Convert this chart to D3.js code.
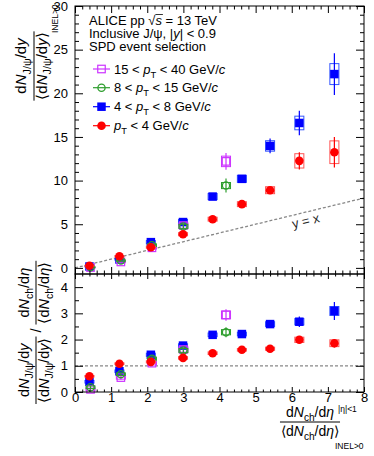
<!DOCTYPE html>
<meta charset="utf-8">
<style>
    body { margin: 0; background: #fff; }
    svg { font-family: "Liberation Sans", Arial, sans-serif; }
</style>
<body>
<script src="https://d3js.org/d3.v7.min.js"></script>
<script>
// x positions (dNch/deta relative to INEL>0)
var xLowPt = [0.40, 1.23, 2.10, 2.99, 3.81, 4.62, 5.40, 6.21, 7.18];
var xHighPt = [0.43, 1.27, 2.13, 3.00, 4.18];

// pT < 4 GeV/c
var redY = [0.24, 1.33, 2.37, 3.86, 5.58, 7.30, 8.90, 12.26, 13.25];
var redStat = [0.05, 0.08, 0.10, 0.15, 0.20, 0.25, 0.40, 1.00, 1.75];
var redSys = [0.05, 0.08, 0.12, 0.18, 0.22, 0.28, 0.40, 0.82, 1.30];
var redR = [0.60, 1.08, 1.15, 1.30, 1.48, 1.61, 1.65, 1.99, 1.86];
var redRStat = [0.04, 0.04, 0.04, 0.05, 0.05, 0.05, 0.06, 0.10, 0.16];
var redRSys = [0.03, 0.03, 0.04, 0.05, 0.05, 0.05, 0.06, 0.10, 0.13];

// 4 < pT < 8 GeV/c
var blueY = [0.16, 0.97, 2.95, 5.25, 8.17, 10.20, 13.97, 16.60, 22.20];
var blueStat = [0.05, 0.08, 0.15, 0.25, 0.30, 0.35, 0.85, 1.40, 2.40];
var blueSys = [0.05, 0.08, 0.18, 0.30, 0.35, 0.40, 0.60, 0.78, 1.20];
var blueR = [0.39, 0.79, 1.42, 1.77, 2.18, 2.21, 2.59, 2.68, 3.09];
var blueRStat = [0.08, 0.07, 0.07, 0.08, 0.08, 0.08, 0.12, 0.20, 0.34];
var blueRSys = [0.05, 0.05, 0.06, 0.07, 0.07, 0.07, 0.09, 0.12, 0.17];

// 8 < pT < 15 GeV/c
var greenY = [0.07, 0.84, 2.60, 4.75, 9.43];
var greenStat = [0.05, 0.10, 0.20, 0.30, 0.80];
var greenSys = [0.05, 0.08, 0.15, 0.25, 0.35];
var greenR = [0.18, 0.68, 1.27, 1.58, 2.28];
var greenRStat = [0.06, 0.07, 0.08, 0.10, 0.19];
var greenRSys = [0.05, 0.05, 0.06, 0.08, 0.10];

// 15 < pT < 40 GeV/c
var magY = [0.04, 0.68, 2.30, 4.85, 12.20];
var magStat = [0.05, 0.10, 0.20, 0.40, 0.95];
var magSys = [0.05, 0.08, 0.15, 0.30, 0.60];
var magR = [0.10, 0.55, 1.10, 1.62, 2.94];
var magRStat = [0.06, 0.08, 0.09, 0.12, 0.22];
var magRSys = [0.05, 0.06, 0.07, 0.10, 0.15];

var yTopMajor = [0, 5, 10, 15, 20, 25, 30];
var yBotMajor = [0, 1, 2, 3, 4];
var xMajor = [0, 1, 2, 3, 4, 5, 6, 7, 8];

var W = 374, H = 456;
var x0 = 75, x1 = 364;
var topY0 = 274, topY1 = 6;
var botY0 = 392, botY1 = 274;

var svg = d3.select("body").append("svg")
    .attr("width", W)
    .attr("height", H);

var x = d3.scaleLinear().domain([0, 8]).range([x0, x1]);
var yTop = d3.scaleLinear().domain([-0.7, 30]).range([topY0, topY1]);
var yBot = d3.scaleLinear().domain([0, 4.5]).range([botY0, botY1]);

// series table, drawn in this order
var series = [
    { x: xLowPt, y: blueY, st: blueStat, sy: blueSys, r: blueR, rst: blueRStat, rsy: blueRSys,
      color: "#0000ff", box: "#3355ff", marker: "square", filled: true,
      label: [["4 < ", ""], ["p", "i"], ["T", "sub"], [" < 8 GeV/", ""], ["c", "i"]] },
    { x: xHighPt, y: magY, st: magStat, sy: magSys, r: magR, rst: magRStat, rsy: magRSys,
      color: "#cc33ff", box: "#cc33ff", marker: "square", filled: false,
      label: [["15 < ", ""], ["p", "i"], ["T", "sub"], [" < 40 GeV/", ""], ["c", "i"]] },
    { x: xHighPt, y: greenY, st: greenStat, sy: greenSys, r: greenR, rst: greenRStat, rsy: greenRSys,
      color: "#2e9e2e", box: "#2e9e2e", marker: "circle", filled: false,
      label: [["8 < ", ""], ["p", "i"], ["T", "sub"], [" < 15 GeV/", ""], ["c", "i"]] },
    { x: xLowPt, y: redY, st: redStat, sy: redSys, r: redR, rst: redRStat, rsy: redRSys,
      color: "#ff0000", box: "#ff5555", marker: "circle", filled: true,
      label: [["p", "i"], ["T", "sub"], [" < 4 GeV/", ""], ["c", "i"]] }
];
var legendOrder = [1, 2, 0, 3];

// rich text helper: parts = [text, style]
function rich(sel, parts, size) {
    var shift = 0;
    parts.forEach(function(p) {
        var t = sel.append("tspan").text(p[0]);
        var target = p[1] === "sub" ? size * 0.3 : (p[1] === "sup" ? -size * 0.35 : 0);
        if (target !== shift) t.attr("dy", target - shift);
        shift = target;
        if (p[1] === "i") t.attr("font-style", "italic");
        if (p[1] === "sub" || p[1] === "sup") t.attr("font-size", size * 0.72);
    });
    return sel;
}

function drawMarker(g, m, cx, cy, color, filled) {
    if (m === "square") {
        var s = filled ? 8.5 : 7.5;
        g.append("rect")
            .attr("x", cx - s / 2).attr("y", cy - s / 2)
            .attr("width", s).attr("height", s)
            .attr("fill", filled ? color : "none")
            .attr("stroke", color).attr("stroke-width", filled ? 0 : 1.2);
    } else {
        g.append("circle")
            .attr("cx", cx).attr("cy", cy)
            .attr("r", filled ? 4.3 : 3.6)
            .attr("fill", filled ? color : "none")
            .attr("stroke", color).attr("stroke-width", filled ? 0 : 1.3);
    }
}

// axes for a panel
function panelAxes(y, yMajor, yMinor, yTickMaj, xTickMaj, xLabels, ytop, ybot) {
    var fmt = d3.format("d");
    function clean(g) {
        g.select(".domain").remove();
        g.selectAll("line").attr("stroke", "#000");
        g.selectAll("text").attr("fill", "#000");
        g.attr("font-size", 13).attr("font-family", "Liberation Sans, Arial, sans-serif");
    }
    var xMinor = d3.range(0, 8.01, 0.2).filter(function(v) { return Math.abs(v - Math.round(v)) > 1e-6; });
    // left
    svg.append("g").attr("transform", "translate(" + x0 + ",0)")
        .call(d3.axisLeft(y).tickValues(yMinor).tickSize(-yTickMaj / 2).tickFormat("")).call(clean);
    svg.append("g").attr("transform", "translate(" + x0 + ",0)")
        .call(d3.axisLeft(y).tickValues(yMajor).tickSize(-yTickMaj).tickPadding(7).tickFormat(fmt)).call(clean);
    // right
    svg.append("g").attr("transform", "translate(" + x1 + ",0)")
        .call(d3.axisRight(y).tickValues(yMinor).tickSize(-yTickMaj / 2).tickFormat("")).call(clean);
    svg.append("g").attr("transform", "translate(" + x1 + ",0)")
        .call(d3.axisRight(y).tickValues(yMajor).tickSize(-yTickMaj).tickFormat("")).call(clean);
    // bottom
    svg.append("g").attr("transform", "translate(0," + ybot + ")")
        .call(d3.axisBottom(x).tickValues(xMinor).tickSize(-xTickMaj / 2).tickFormat("")).call(clean);
    svg.append("g").attr("transform", "translate(0," + ybot + ")")
        .call(d3.axisBottom(x).tickValues(xMajor).tickSize(-xTickMaj).tickPadding(1)
            .tickFormat(xLabels ? fmt : "")).call(clean);
    // top
    svg.append("g").attr("transform", "translate(0," + ytop + ")")
        .call(d3.axisTop(x).tickValues(xMinor).tickSize(-xTickMaj / 2).tickFormat("")).call(clean);
    svg.append("g").attr("transform", "translate(0," + ytop + ")")
        .call(d3.axisTop(x).tickValues(xMajor).tickSize(-xTickMaj).tickFormat("")).call(clean);
    svg.append("rect")
        .attr("x", x0).attr("y", ytop)
        .attr("width", x1 - x0).attr("height", ybot - ytop)
        .attr("fill", "none").attr("stroke", "#000").attr("stroke-width", 1);
}

var yTopMinor = d3.range(0, 30.01, 1).filter(function(v) { return v % 5 !== 0; });
var yBotMinor = [0.5, 1.5, 2.5, 3.5];

// reference lines
svg.append("line")
    .attr("x1", x(0)).attr("y1", yTop(0))
    .attr("x2", x(8)).attr("y2", yTop(8))
    .attr("stroke", "#888").attr("stroke-width", 1.3).attr("stroke-dasharray", "3,2");
svg.append("line")
    .attr("x1", x(0)).attr("y1", yBot(1))
    .attr("x2", x(8)).attr("y2", yBot(1))
    .attr("stroke", "#888").attr("stroke-width", 1.3).attr("stroke-dasharray", "3,2");

var ang = Math.atan2(yTop(0) - yTop(8), x(8) - x(0)) * 180 / Math.PI;
svg.append("text")
    .attr("transform", "translate(" + x(6.33) + "," + yTop(6.33) + ") rotate(" + (-ang) + ")")
    .attr("y", 13)
    .attr("text-anchor", "middle")
    .attr("font-size", 13)
    .attr("fill", "#222")
    .text("y = x");

// points
function drawPoints(y, key, stKey, syKey) {
    series.forEach(function(s) {
        var g = svg.append("g");
        s.x.forEach(function(xv, i) {
            var v = s[key][i], e = s[stKey][i], sy = s[syKey][i];
            g.append("rect")
                .attr("x", x(xv - 0.125)).attr("y", y(v + sy))
                .attr("width", x(xv + 0.125) - x(xv - 0.125))
                .attr("height", y(v - sy) - y(v + sy))
                .attr("fill", "none").attr("stroke", s.box).attr("stroke-width", 1);
            g.append("line")
                .attr("x1", x(xv)).attr("x2", x(xv))
                .attr("y1", y(v + e)).attr("y2", y(v - e))
                .attr("stroke", s.color).attr("stroke-width", 1.2);
            drawMarker(g, s.marker, x(xv), y(v), s.color, s.filled);
        });
    });
}
drawPoints(yTop, "y", "st", "sy");
drawPoints(yBot, "r", "rst", "rsy");

panelAxes(yTop, yTopMajor, yTopMinor, 8, 7, false, topY1, topY0);
panelAxes(yBot, yBotMajor, yBotMinor, 8, 5, true, botY1, botY0);

// header
var header = svg.append("g").attr("font-size", 13).attr("fill", "#000");
var h1 = header.append("text").attr("x", 89).attr("y", 24.5);
h1.append("tspan").text("ALICE pp \u221A");
h1.append("tspan").attr("font-style", "italic").text("s");
h1.append("tspan").text(" = 13 TeV");
var sIdx = "ALICE pp \u221A".length;
var ext = h1.node().getExtentOfChar(sIdx);
header.append("line")
    .attr("x1", ext.x).attr("x2", ext.x + ext.width + 1)
    .attr("y1", ext.y + 2).attr("y2", ext.y + 2)
    .attr("stroke", "#000").attr("stroke-width", 0.8);
rich(header.append("text").attr("x", 89).attr("y", 37.5),
    [["Inclusive J/\u03C8, |", ""], ["y", "i"], ["| < 0.9", ""]], 13);
header.append("text").attr("x", 89).attr("y", 50.5).text("SPD event selection");

// legend
var legY = [73.6, 92.3, 111.3, 130.3];
legendOrder.forEach(function(si, k) {
    var s = series[si];
    var cy = legY[k] - 4.6;
    var g = svg.append("g");
    g.append("line").attr("x1", 93).attr("x2", 110).attr("y1", cy).attr("y2", cy)
        .attr("stroke", s.color).attr("stroke-width", 1.2);
    drawMarker(g, s.marker, 101.5, cy, s.color, s.filled);
    rich(g.append("text").attr("x", 114).attr("y", legY[k]).attr("font-size", 13), s.label, 13);
});

// fraction helper, drawn in a local frame
function fraction(g, cx, num, den, nb, bar, db, size) {
    var t1 = rich(g.append("text").attr("x", cx).attr("y", nb).attr("font-size", size).attr("text-anchor", "middle"), num, size);
    var t2 = rich(g.append("text").attr("x", cx).attr("y", db).attr("font-size", size).attr("text-anchor", "middle"), den, size);
    var w = Math.max(t1.node().getComputedTextLength(), t2.node().getComputedTextLength()) + 2;
    g.append("line").attr("x1", cx - w / 2).attr("x2", cx + w / 2)
        .attr("y1", bar).attr("y2", bar).attr("stroke", "#000").attr("stroke-width", 1);
    return { g: g, w: w, t1: t1, t2: t2 };
}

function measure(parts, size) {
    var t = rich(svg.append("text").attr("font-size", size), parts, size);
    var w = t.node().getComputedTextLength();
    t.remove();
    return w;
}

var jpsiNum = [["d", ""], ["N", "i"], ["J/\u03C8", "sub"], ["/d", ""], ["y", "i"]];
var jpsiDen = [["\u27E8d", ""], ["N", "i"], ["J/\u03C8", "sub"], ["/d", ""], ["y", "i"], ["\u27E9", ""]];
var chNum = [["d", ""], ["N", "i"], ["ch", "sub"], ["/d", ""], ["\u03B7", "i"]];
var chDen = [["\u27E8d", ""], ["N", "i"], ["ch", "sub"], ["/d", ""], ["\u03B7", "i"], ["\u27E9", ""]];

// top y title
var gy = svg.append("g").attr("transform", "translate(0,66) rotate(-90)");
fraction(gy, 0, jpsiNum, jpsiDen, 26, 34, 46.5, 15);
gy.append("text").attr("x", 33).attr("y", 58).attr("font-size", 8.5).text("INEL>0");

// bottom y title: laid out from the bottom upwards
var bSize = 14.5;
var gb = svg.append("g").attr("transform", "translate(0,0) rotate(-90)");
var wJ = Math.max(measure(jpsiNum, bSize), measure(jpsiDen, bSize)) + 2;
var wC = Math.max(measure(chNum, bSize), measure(chDen, bSize)) + 2;
var uStart = -404;
fraction(gb, uStart + wJ / 2, jpsiNum, jpsiDen, 28.5, 36, 49, bSize);
gb.append("text").attr("x", uStart + wJ + 6).attr("y", 41).attr("font-size", bSize)
    .attr("text-anchor", "middle").text("/");
fraction(gb, uStart + wJ + 12 + wC / 2, chNum, chDen, 28.5, 36, 49, bSize);

// x title
var gx = svg.append("g");
fraction(gx, 310, chNum, chDen, 416.5, 422, 435.5, 14);
gx.append("text").attr("x", 338).attr("y", 411.5).attr("font-size", 8.5).text("|\u03B7|<1");
gx.append("text").attr("x", 335).attr("y", 449).attr("font-size", 8.5).text("INEL>0");
</script>
</body>
